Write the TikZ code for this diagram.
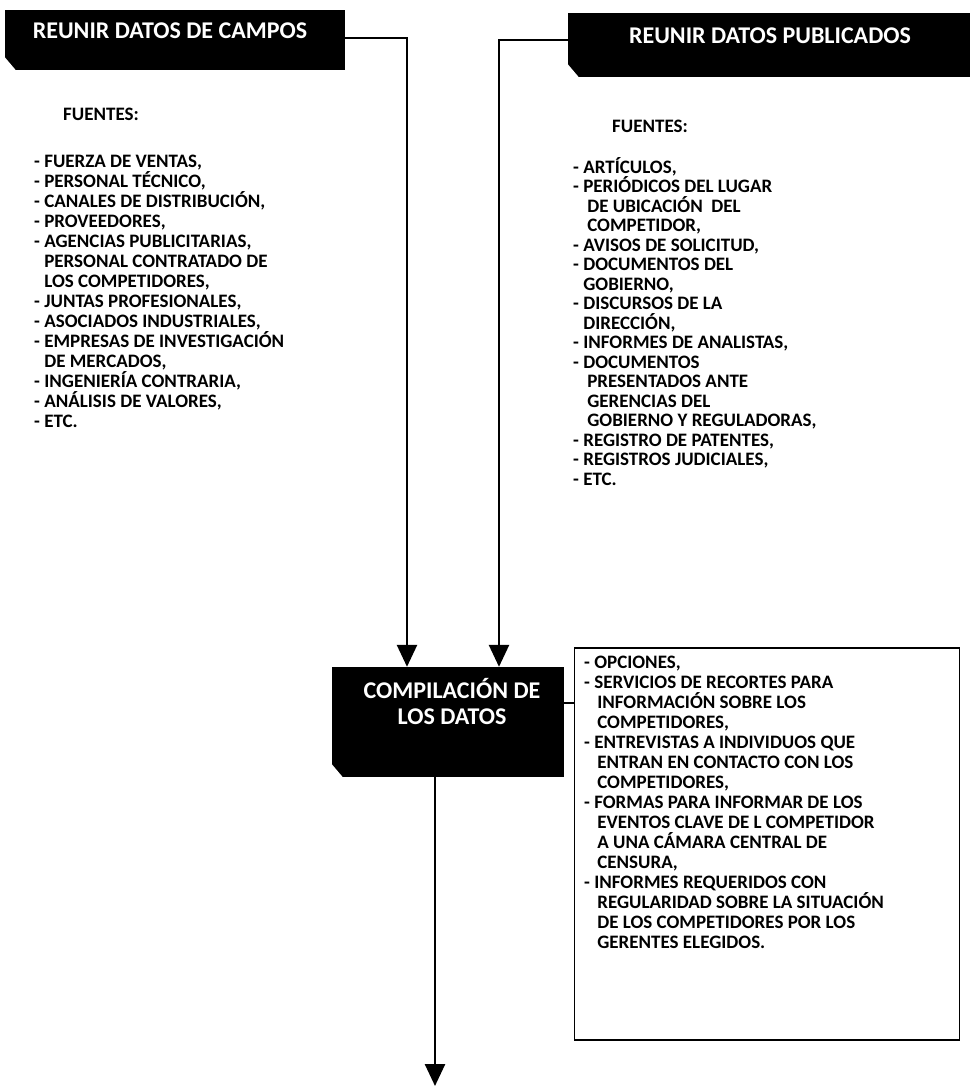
\documentclass[tikz,border=0pt]{standalone}
\usepackage{fontspec}
\setsansfont{Carlito}
\usetikzlibrary{arrows.meta}

\newcommand{\sangria}{\hphantom{- }}

\begin{document}
\begin{tikzpicture}[x=1pt, y=-1pt,
    darkbox/.style={rectangle, fill=black, inner sep=0pt},
    boxtext/.style={text=white, inner sep=0pt, align=center,
      font=\sffamily\bfseries\fontsize{24}{26}\selectfont},
    lista/.style={anchor=north west, align=left, inner sep=0pt,
      font=\sffamily\bfseries\fontsize{19}{20}\selectfont},
    flujo/.style={line width=2.6pt, -{Triangle[width=20pt,length=22pt]}},
    enlace/.style={line width=2.6pt}]
  \useasboundingbox (0,0) rectangle (970,1088);

  % cajas oscuras
  \node[darkbox, minimum width=340, minimum height=60] (campo) at (175,40) {};
  \node[boxtext] (campoT) at (170,31) {REUNIR DATOS DE CAMPOS};
  \node[darkbox, minimum width=402, minimum height=64] (public) at (769,45) {};
  \node[boxtext] (publicT) at (770,36) {REUNIR DATOS PUBLICADOS};
  \node[darkbox, minimum width=232, minimum height=110] (compila) at (448,722) {};
  \node[boxtext] (compilaT) at (452,701) {COMPILACIÓN DE\\LOS DATOS};
  % esquinas cortadas
  \foreach \caja in {campo,public,compila}
    \fill[white] (\caja.south west) -- ++(0,-13) -- ++(11,13) -- cycle;

  % fuentes de campo
  \node[lista] (fcampoT) at (63,108) {FUENTES:};
  \node[lista] (fcampo) at (34,155) {%
    - FUERZA DE VENTAS,\\
    - PERSONAL TÉCNICO,\\
    - CANALES DE DISTRIBUCIÓN,\\
    - PROVEEDORES,\\
    - AGENCIAS PUBLICITARIAS,\\
    \sangria PERSONAL CONTRATADO DE\\
    \sangria LOS COMPETIDORES,\\
    - JUNTAS PROFESIONALES,\\
    - ASOCIADOS INDUSTRIALES,\\
    - EMPRESAS DE INVESTIGACIÓN\\
    \sangria DE MERCADOS,\\
    - INGENIERÍA CONTRARIA,\\
    - ANÁLISIS DE VALORES,\\
    - ETC.};

  % fuentes publicadas
  \node[lista] (fpublicT) at (612,120) {FUENTES:};
  \node[lista, font=\sffamily\bfseries\fontsize{19}{19.5}\selectfont] (fpublic) at (573,157) {%
    - ARTÍCULOS,\\
    - PERIÓDICOS DEL LUGAR\\
    \sangria\hspace*{4pt}DE UBICACIÓN \ DEL\\
    \sangria\hspace*{4pt}COMPETIDOR,\\
    - AVISOS DE SOLICITUD,\\
    - DOCUMENTOS DEL\\
    \sangria GOBIERNO,\\
    - DISCURSOS DE LA\\
    \sangria DIRECCIÓN,\\
    - INFORMES DE ANALISTAS,\\
    - DOCUMENTOS\\
    \sangria\hspace*{4pt}PRESENTADOS ANTE\\
    \sangria\hspace*{4pt}GERENCIAS DEL\\
    \sangria\hspace*{4pt}GOBIERNO Y REGULADORAS,\\
    - REGISTRO DE PATENTES,\\
    - REGISTROS JUDICIALES,\\
    - ETC.};

  % opciones
  \node[draw, line width=1.8pt, minimum width=385, minimum height=392,
    inner sep=0pt] (opc) at (767,844) {};
  \node[lista] (opcT) at (584,656) {%
    - OPCIONES,\\
    - SERVICIOS DE RECORTES PARA\\
    \sangria\hspace*{3pt}INFORMACIÓN SOBRE LOS\\
    \sangria\hspace*{3pt}COMPETIDORES,\\
    - ENTREVISTAS A INDIVIDUOS QUE\\
    \sangria\hspace*{3pt}ENTRAN EN CONTACTO CON LOS\\
    \sangria\hspace*{3pt}COMPETIDORES,\\
    - FORMAS PARA INFORMAR DE LOS\\
    \sangria\hspace*{3pt}EVENTOS CLAVE DE L COMPETIDOR\\
    \sangria\hspace*{3pt}A UNA CÁMARA CENTRAL DE\\
    \sangria\hspace*{3pt}CENSURA,\\
    - INFORMES REQUERIDOS CON\\
    \sangria\hspace*{3pt}REGULARIDAD SOBRE LA SITUACIÓN\\
    \sangria\hspace*{3pt}DE LOS COMPETIDORES POR LOS\\
    \sangria\hspace*{3pt}GERENTES ELEGIDOS.};

  % conectores
  \coordinate (salida) at (435,1086);
  \draw[flujo] (campo.east |- 0,38) -| (407,0 |- compila.north);
  \draw[flujo] (public.west |- 0,40) -| (499,0 |- compila.north);
  \draw[enlace] (compila.east |- 0,703) -- (opc.west |- 0,703);
  \draw[flujo] (435,0 |- compila.south) -- (salida);
\end{tikzpicture}
\end{document}
